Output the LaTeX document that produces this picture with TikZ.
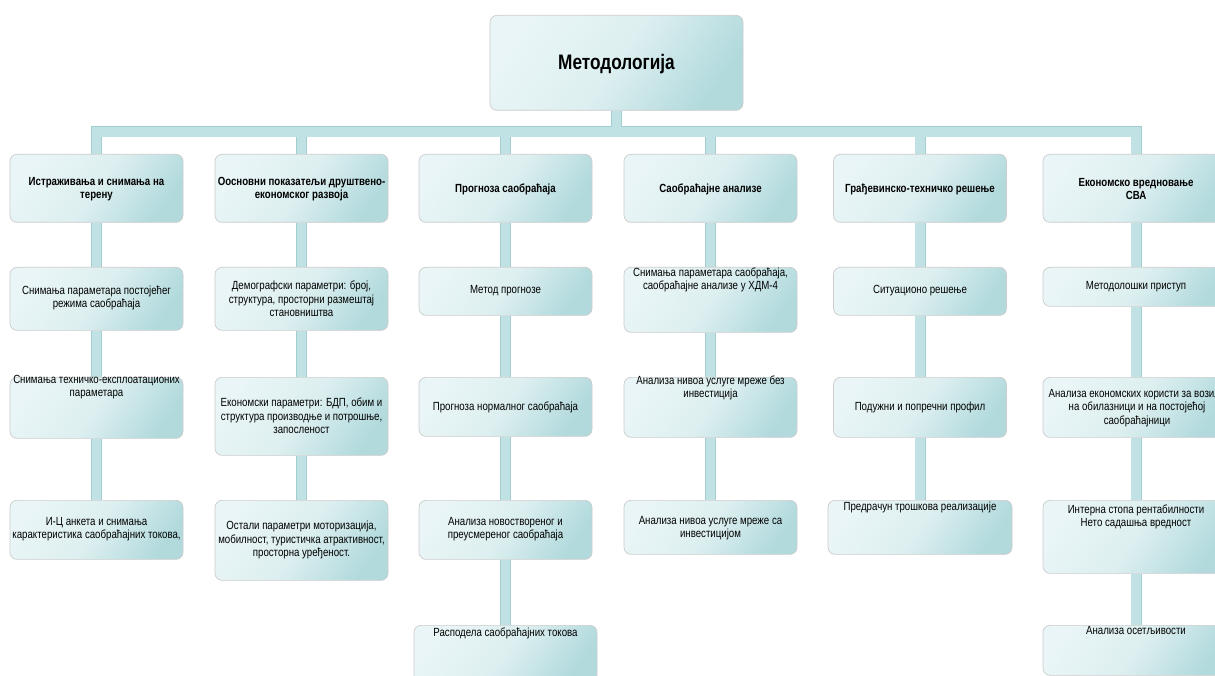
\documentclass[tikz,border=0pt]{standalone}
\usepackage{fontspec}
\setmainfont{Liberation Sans}[FakeStretch=0.82]
\usetikzlibrary{backgrounds,calc}
\definecolor{bl}{HTML}{E9F5F6}
\definecolor{bm}{HTML}{DDEFF0}
\definecolor{bd}{HTML}{B2DADD}
\definecolor{cfill}{HTML}{C0E2E5}
\definecolor{cedge}{HTML}{A2CDD1}
\pgfdeclarehorizontalshading{boxshade}{100bp}{color(0bp)=(bl); color(25bp)=(bl); color(50bp)=(bm); color(75bp)=(bd); color(100bp)=(bd)}
\tikzset{
  bx/.style={rectangle, rounded corners=7pt, draw=black!20, line width=0.7pt, shade, shading=boxshade, shading angle=-35, inner sep=0pt},
  txt/.style={align=center, font=\fontsize{11.8}{13.6}\selectfont, inner sep=0pt},
  ttl/.style={align=center, font=\fontsize{21}{23}\selectfont\bfseries, inner sep=0pt},
  cout/.style={draw=cedge, line width=11pt, line join=miter},
  cin/.style={draw=cfill, line width=9.4pt, line join=miter},
}
% name, cx, top, bottom, width, textx, texty, text
\newcommand\bxn[8]{%
  \node[bx, minimum width=#5pt, minimum height=#4pt-#3pt, anchor=north] (#1) at (#2,#3) {};
  \node[txt] (#1t) at (#6,#7) {#8};}
\newcommand\connpaths[1]{%
  \draw[#1] (top) -- (bar);
  \draw[#1] (bar) -| (a1); \draw[#1] (bar) -| (b1); \draw[#1] (bar) -| (c1);
  \draw[#1] (bar) -| (d1); \draw[#1] (bar) -| (e1); \draw[#1] (bar) -| (f1);
  \draw[#1] (a1) -- (a2) -- (a3) -- (a4);
  \draw[#1] (b1) -- (b2) -- (b3) -- (b4);
  \draw[#1] (c1) -- (c2) -- (c3) -- (c4) -- (c5);
  \draw[#1] (d1) -- (d2) -- (d3) -- (d4);
  \draw[#1] (e1) -- (e2) -- (e3) -- (e4);
  \draw[#1] (f1) -- (f2) -- (f3) -- (f4) -- (f5);}
\begin{document}
\begin{tikzpicture}[x=1pt,y=-1pt]
\useasboundingbox (0,0) rectangle (1215,676);
% top
\node[bx, minimum width=253pt, minimum height=95pt, anchor=north] (top) at (616.5,15) {};
\node[ttl] (topt) at (616.5,64) {Методологија};
\coordinate (bar) at (616.5,132);
% column 1
\bxn{a1}{96.5}{154}{222}{173}{96.5}{189}{\bfseries Истраживања и снимања на\\\bfseries терену}
\bxn{a2}{96.5}{267}{330}{173}{96.5}{298}{Снимања параметара постојећег\\режима саобраћаја}
\bxn{a3}{96.5}{377}{438}{173}{96.5}{387}{Снимања техничко-експлоатационих\\параметара}
\bxn{a4}{96.5}{500}{559}{173}{96.5}{529}{И-Ц анкета и снимања\\карактеристика саобраћајних токова,}
% column 2
\bxn{b1}{301.5}{154}{222}{173}{301.5}{189}{\bfseries Оосновни показатељи друштвено-\\\bfseries економског развоја}
\bxn{b2}{301.5}{267}{330}{173}{301.5}{299}{Демографски параметри: број,\\структура, просторни размештај\\становништва}
\bxn{b3}{301.5}{377}{455}{173}{301.5}{416}{Економски параметри: БДП, обим и\\структура производње и потрошње,\\запосленост}
\bxn{b4}{301.5}{500}{580}{173}{301.5}{540}{Остали параметри моторизација,\\мобилност, туристичка атрактивност,\\просторна уређеност.}
% column 3
\bxn{c1}{505.5}{154}{222}{173}{505.5}{189}{\bfseries Прогноза саобраћаја}
\bxn{c2}{505.5}{267}{315}{173}{505.5}{291}{Метод прогнозе}
\bxn{c3}{505.5}{377}{436}{173}{505.5}{407}{Прогноза нормалног саобраћаја}
\bxn{c4}{505.5}{500}{559}{173}{505.5}{529}{Анализа новоствореног и\\преусмереног саобраћаја}
\bxn{c5}{505.5}{625}{682}{183}{505.5}{633}{Расподела саобраћајних токова}
% column 4
\bxn{d1}{710.5}{154}{222}{173}{710.5}{189}{\bfseries Саобраћајне анализе}
\bxn{d2}{710.5}{267}{332}{173}{710.5}{280}{Снимања параметара саобраћаја,\\саобраћајне анализе у ХДМ-4}
\bxn{d3}{710.5}{377}{437}{173}{710.5}{388}{Анализа нивоа услуге мреже без\\инвестиција}
\bxn{d4}{710.5}{500}{554}{173}{710.5}{528}{Анализа нивоа услуге мреже са\\инвестицијом}
% column 5
\bxn{e1}{920}{154}{222}{173}{920}{189}{\bfseries Грађевинско-техничко решење}
\bxn{e2}{920}{267}{315}{173}{920}{291}{Ситуационо решење}
\bxn{e3}{920}{377}{437}{173}{920}{407}{Подужни и попречни профил}
\bxn{e4}{920}{500}{554}{184}{920}{507}{Предрачун трошкова реализације}
% column 6
\bxn{f1}{1136}{154}{222}{186}{1136}{189}{\bfseries Економско вредновање\\\bfseries СВА}
\bxn{f2}{1136}{267}{306}{186}{1136}{287}{Методолошки приступ}
\bxn{f3}{1136}{377}{437}{186}{1137}{408}{Анализа економских користи за возила\\на обилазници и на постојећој\\саобраћајници}
\bxn{f4}{1136}{500}{573}{186}{1136}{517}{Интерна стопа рентабилности\\Нето садашња вредност}
\bxn{f5}{1136}{625}{675}{186}{1136}{630}{Анализа осетљивости}
\begin{scope}[on background layer]
  \fill[white] (0,0) rectangle (1215,676);
  \connpaths{cout}
  \connpaths{cin}
\end{scope}
\end{tikzpicture}
\end{document}
